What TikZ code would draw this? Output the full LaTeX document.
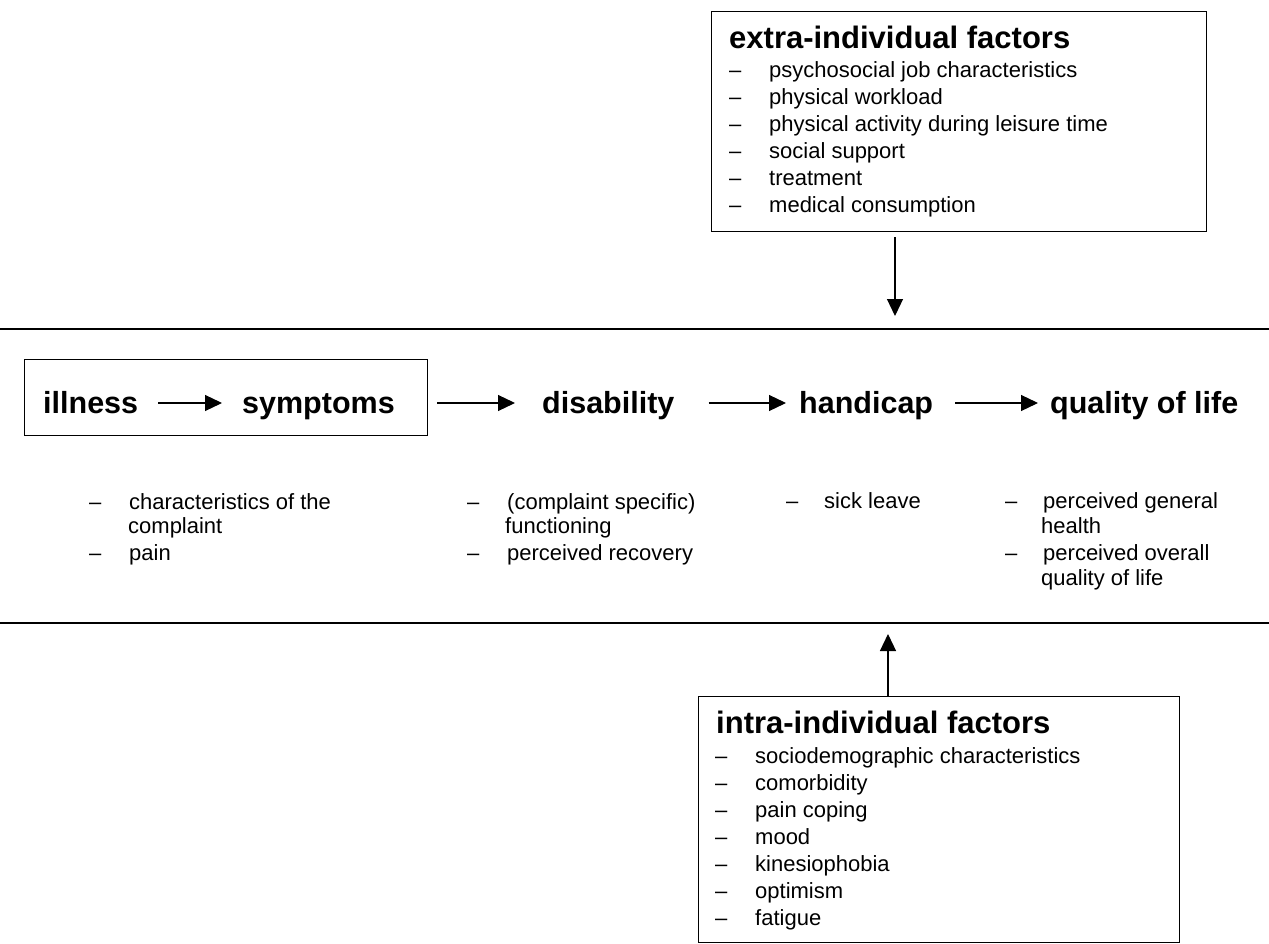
\documentclass[tikz,border=0pt]{standalone}
\usepackage{fontspec}
\setmainfont{Liberation Sans}
\usetikzlibrary{arrows.meta}

\tikzset{
  stage/.style={inner sep=0pt, anchor=base west, font=\fontsize{30.5}{36}\selectfont\bfseries},
  heading/.style={inner sep=0pt, anchor=base west, font=\fontsize{31}{36}\selectfont\bfseries},
  entry/.style={inner sep=0pt, anchor=base west, font=\fontsize{22}{26}\selectfont},
  factorbox/.style={draw, line width=1.2pt, inner sep=0pt, anchor=north west},
  flow/.style={-{Triangle[length=17pt,width=16pt]}, line width=1.2pt},
  rule/.style={line width=1.4pt}
}

\begin{document}
\begin{tikzpicture}[x=1pt, y=-1pt]
    \useasboundingbox (0,0) rectangle (1269,944);

    % extra-individual factors
    \node[factorbox, minimum width=495, minimum height=220] (xbox) at (711,11) {};
    \node[heading] (xhead) at (729,49) {extra-individual factors};
    \foreach \txt [count=\i] in {psychosocial job characteristics, physical workload,
        physical activity during leisure time, social support, treatment, medical consumption} {
        \node[entry] (xd\i) at (729, 51+27*\i) {--};
        \node[entry] (xi\i) at (769, 51+27*\i) {\txt};
    }

    % separating rules
    \coordinate (topL) at (0,329);
    \coordinate (topR) at (1269,329);
    \coordinate (botL) at (0,623);
    \coordinate (botR) at (1269,623);
    \draw[rule] (topL) -- (topR);
    \draw[rule] (botL) -- (botR);

    % main chain
    \node[factorbox, minimum width=403, minimum height=76] (sbox) at (24,359) {};
    \node[stage] (illness) at (43,413) {illness};
    \node[stage] (symptoms) at (242,413) {symptoms};
    \node[stage] (disability) at (542,413) {disability};
    \node[stage] (handicap) at (799,413) {handicap};
    \node[stage] (qol) at (1050,413) {quality of life};

    \draw[flow, shorten <=20pt, shorten >=20pt] ([yshift=10pt]illness.base east) -- ([yshift=10pt]symptoms.base west);
    \draw[flow, shorten <=9pt, shorten >=27pt] ([yshift=10pt]sbox.east |- illness.base) -- ([yshift=10pt]disability.base west);
    \draw[flow, shorten <=34pt, shorten >=13pt] ([yshift=10pt]disability.base east) -- ([yshift=10pt]handicap.base west);
    \draw[flow, shorten <=22pt, shorten >=12pt] ([yshift=10pt]handicap.base east) -- ([yshift=10pt]qol.base west);

    % measures under each stage
    \node[entry] (sd1) at (89,509) {--};
    \node[entry] (s1a) at (129,509) {characteristics of the};
    \node[entry] (s1b) at (128,533) {complaint};
    \node[entry] (sd2) at (89,560) {--};
    \node[entry] (s2) at (129,560) {pain};

    \node[entry] (dd1) at (467,509) {--};
    \node[entry] (d1a) at (507,509) {(complaint specific)};
    \node[entry] (d1b) at (505,533) {functioning};
    \node[entry] (dd2) at (467,560) {--};
    \node[entry] (d2) at (507,560) {perceived recovery};

    \node[entry] (hd1) at (786,508) {--};
    \node[entry] (h1) at (824,508) {sick leave};

    \node[entry] (qd1) at (1005,508) {--};
    \node[entry] (q1a) at (1043,508) {perceived general};
    \node[entry] (q1b) at (1041,533) {health};
    \node[entry] (qd2) at (1005,560) {--};
    \node[entry] (q2a) at (1043,560) {perceived overall};
    \node[entry] (q2b) at (1041,585) {quality of life};

    % intra-individual factors
    \node[factorbox, minimum width=481, minimum height=246] (ibox) at (698,696) {};
    \node[heading] (ihead) at (716,733) {intra-individual factors};
    \foreach \txt [count=\i] in {sociodemographic characteristics, comorbidity, pain coping,
        mood, kinesiophobia, optimism, fatigue} {
        \node[entry] (id\i) at (715, 736+27*\i) {--};
        \node[entry] (ii\i) at (755, 736+27*\i) {\txt};
    }

    % influences on the chain
    \coordinate (xin) at (895,329);
    \coordinate (iin) at (888,623);
    \draw[flow, shorten <=5pt, shorten >=13pt] (xbox.south -| xin) -- (xin);
    \draw[flow, shorten >=11pt] (ibox.north -| iin) -- (iin);
\end{tikzpicture}
\end{document}
